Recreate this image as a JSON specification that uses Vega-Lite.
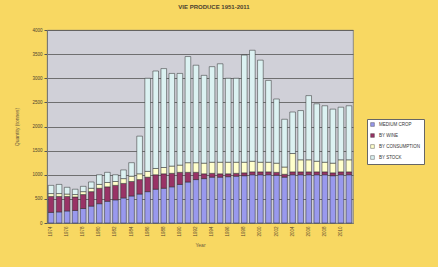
{
  "$schema": "https://vega.github.io/schema/vega-lite/v6.json",
  "width": 306,
  "height": 193,
  "autosize": {"type": "none"},
  "padding": {"left": 47, "top": 30, "right": 85, "bottom": 44},
  "background": "#f8d862",
  "title": {"text": "VIE PRODUCE 1951-2011", "fontSize": 6, "fontWeight": "bold", "color": "#4a4030", "anchor": "middle", "dx": 14, "offset": 17, "font": "Liberation Sans"},
  "config": {
    "view": {"fill": "#d0d0d8", "stroke": "#777", "strokeWidth": 0.8},
    "font": "Liberation Sans"
  },
  "data": {"values": [
    {"year": 1974, "s1": 220, "s2": 330, "s3": 60, "s4": 170},
    {"year": 1975, "s1": 230, "s2": 320, "s3": 60, "s4": 190},
    {"year": 1976, "s1": 250, "s2": 300, "s3": 50, "s4": 140},
    {"year": 1977, "s1": 260, "s2": 280, "s3": 50, "s4": 110},
    {"year": 1978, "s1": 300, "s2": 290, "s3": 60, "s4": 110},
    {"year": 1979, "s1": 350, "s2": 300, "s3": 70, "s4": 130},
    {"year": 1980, "s1": 400, "s2": 320, "s3": 80, "s4": 200},
    {"year": 1981, "s1": 450, "s2": 300, "s3": 90, "s4": 210},
    {"year": 1982, "s1": 480, "s2": 300, "s3": 80, "s4": 140},
    {"year": 1983, "s1": 520, "s2": 300, "s3": 100, "s4": 180},
    {"year": 1984, "s1": 560, "s2": 300, "s3": 110, "s4": 280},
    {"year": 1985, "s1": 600, "s2": 300, "s3": 120, "s4": 780},
    {"year": 1986, "s1": 650, "s2": 300, "s3": 120, "s4": 1930},
    {"year": 1987, "s1": 700, "s2": 300, "s3": 130, "s4": 2020},
    {"year": 1988, "s1": 720, "s2": 300, "s3": 130, "s4": 2050},
    {"year": 1989, "s1": 750, "s2": 280, "s3": 150, "s4": 1920},
    {"year": 1990, "s1": 800, "s2": 250, "s3": 150, "s4": 1900},
    {"year": 1991, "s1": 850, "s2": 200, "s3": 200, "s4": 2200},
    {"year": 1992, "s1": 900, "s2": 150, "s3": 200, "s4": 2020},
    {"year": 1993, "s1": 920, "s2": 100, "s3": 220, "s4": 1820},
    {"year": 1994, "s1": 950, "s2": 80, "s3": 230, "s4": 1980},
    {"year": 1995, "s1": 950, "s2": 70, "s3": 240, "s4": 2040},
    {"year": 1996, "s1": 960, "s2": 60, "s3": 240, "s4": 1740},
    {"year": 1997, "s1": 970, "s2": 60, "s3": 230, "s4": 1740},
    {"year": 1998, "s1": 980, "s2": 60, "s3": 220, "s4": 2220},
    {"year": 1999, "s1": 1000, "s2": 60, "s3": 220, "s4": 2300},
    {"year": 2000, "s1": 1000, "s2": 60, "s3": 200, "s4": 2115},
    {"year": 2001, "s1": 1000, "s2": 60, "s3": 200, "s4": 1695},
    {"year": 2002, "s1": 990, "s2": 60, "s3": 190, "s4": 1330},
    {"year": 2003, "s1": 950, "s2": 60, "s3": 150, "s4": 990},
    {"year": 2004, "s1": 1000, "s2": 60, "s3": 380, "s4": 860},
    {"year": 2005, "s1": 1000, "s2": 60, "s3": 250, "s4": 1020},
    {"year": 2006, "s1": 1000, "s2": 60, "s3": 250, "s4": 1330},
    {"year": 2007, "s1": 1000, "s2": 60, "s3": 220, "s4": 1190},
    {"year": 2008, "s1": 1000, "s2": 60, "s3": 200, "s4": 1170},
    {"year": 2009, "s1": 980, "s2": 60, "s3": 200, "s4": 1120},
    {"year": 2010, "s1": 1000, "s2": 60, "s3": 250, "s4": 1090},
    {"year": 2011, "s1": 1000, "s2": 60, "s3": 250, "s4": 1120}
  ]},
  "transform": [{"fold": ["s1", "s2", "s3", "s4"], "as": ["series", "value"]}],
  "mark": {"type": "bar", "stroke": "#2a2a2a", "strokeWidth": 0.5},
  "encoding": {
    "x": {
      "field": "year", "type": "ordinal",
      "scale": {"paddingInner": 0.3, "paddingOuter": 0.15},
      "axis": {
        "title": "Year", "titleFontSize": 5, "titleColor": "#6a5a40", "titleFontWeight": "normal", "titlePadding": 6,
        "labelAngle": 270, "labelFontSize": 4.5, "labelColor": "#5a4a30",
        "labelExpr": "(datum.value - 1974) % 2 == 0 ? datum.label : ''",
        "ticks": false, "domainColor": "#777", "labelPadding": 3
      }
    },
    "y": {
      "field": "value", "type": "quantitative", "stack": "zero",
      "scale": {"domain": [0, 4000]},
      "axis": {
        "title": "Quantity (tonnes)", "titleFontSize": 5, "titleColor": "#6a5a40", "titleFontWeight": "normal", "titlePadding": 12,
        "values": [0, 500, 1000, 1500, 2000, 2500, 3000, 3500, 4000],
        "labelFontSize": 4.5, "labelColor": "#4a4030", "format": "d",
        "grid": true, "gridColor": "#555", "gridWidth": 0.8,
        "tickColor": "#555", "tickSize": 3, "domainColor": "#777", "labelPadding": 2
      }
    },
    "color": {
      "field": "series", "type": "nominal",
      "scale": {"domain": ["s1", "s2", "s3", "s4"], "range": ["#9999ee", "#993366", "#ffffcc", "#dcf2f2"]},
      "legend": {
        "title": null, "orient": "none", "legendX": 320, "legendY": 89,
        "fillColor": "#ffffff", "strokeColor": "#666", "padding": 3,
        "labelFontSize": 4.5, "labelColor": "#333", "symbolType": "square", "symbolSize": 14,
        "symbolStrokeColor": "#333", "symbolStrokeWidth": 0.4, "rowPadding": 4, "labelLimit": 60,
        "labelExpr": "{'s1': 'MEDIUM CROP', 's2': 'BY WINE', 's3': 'BY CONSUMPTION', 's4': 'BY STOCK'}[datum.value]"
      }
    },
    "order": {"field": "series", "sort": "ascending"}
  }
}
